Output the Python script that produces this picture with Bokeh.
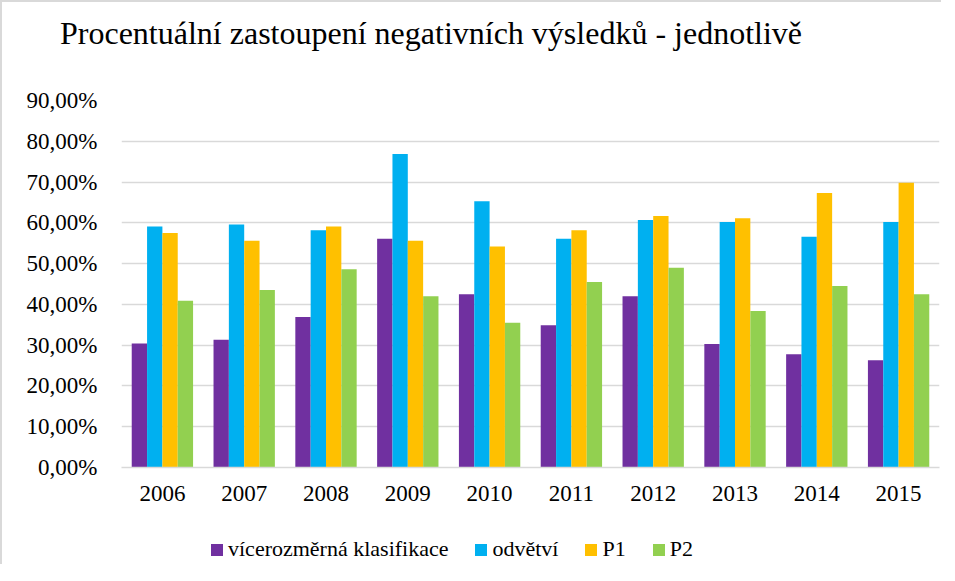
from bokeh.plotting import figure
from bokeh.layouts import column
from bokeh.models import (FactorRange, Range1d, ColumnDataSource, CustomJSTickFormatter,
                          Legend, LegendItem, FixedTicker, Div)
from bokeh.transform import dodge
from bokeh.embed import file_html
from bokeh.resources import INLINE

years = ["2006", "2007", "2008", "2009", "2010", "2011", "2012", "2013", "2014", "2015"]
vicerozmerna = [30.4, 31.3, 36.9, 56.1, 42.5, 34.9, 42.0, 30.3, 27.8, 26.3]
odvetvi = [59.1, 59.6, 58.2, 76.9, 65.3, 56.1, 60.7, 60.2, 56.6, 60.2]
p1 = [57.5, 55.6, 59.1, 55.6, 54.2, 58.2, 61.7, 61.1, 67.3, 69.8]
p2 = [40.9, 43.5, 48.6, 42.0, 35.5, 45.5, 49.0, 38.4, 44.5, 42.5]
series_names = ["vícerozměrná klasifikace", "odvětví", "P1", "P2"]
colors = ["#7030A0", "#00B0F0", "#FFC000", "#92D050"]
y_ticks = [0, 10, 20, 30, 40, 50, 60, 70, 80, 90]
title_text = "Procentuální zastoupení negativních výsledků - jednotlivě"

FONT = "Liberation Serif"

source = ColumnDataSource(dict(year=years, s0=vicerozmerna, s1=odvetvi, s2=p1, s3=p2))

title_div = Div(text=title_text, width=939, height=50, margin=0,
                styles={"font-family": FONT, "font-size": "32px", "color": "#000000",
                        "line-height": "1.15", "padding-left": "58px", "padding-top": "13px",
                        "box-sizing": "border-box", "white-space": "nowrap"})

p = figure(x_range=FactorRange(*years), y_range=Range1d(0, 90),
           width=939, height=467, output_backend="svg", toolbar_location=None,
           min_border_left=119, min_border_right=2, min_border_top=48, min_border_bottom=52)
p.title = None

bw = 0.1875
offsets = [-1.5 * bw, -0.5 * bw, 0.5 * bw, 1.5 * bw]
for i, col in enumerate(colors):
    p.vbar(x=dodge("year", offsets[i], range=p.x_range), top="s%d" % i, width=bw,
           source=source, fill_color=col, line_color=None)

p.outline_line_color = None
p.xgrid.grid_line_color = None
p.ygrid.grid_line_color = "#d9d9d9"
p.ygrid.grid_line_width = 1.5
p.yaxis.ticker = FixedTicker(ticks=y_ticks)
p.yaxis.formatter = CustomJSTickFormatter(code="return tick.toFixed(2).replace('.', ',') + '%';")
p.yaxis.axis_line_color = None
p.yaxis.major_tick_line_color = None
p.yaxis.minor_tick_line_color = None
p.yaxis.major_label_standoff = 18
p.xaxis.axis_line_color = "#d9d9d9"
p.xaxis.axis_line_width = 1.5
p.xaxis.major_tick_line_color = None
p.xaxis.minor_tick_line_color = None
p.xaxis.major_label_standoff = 12
for ax in (p.xaxis, p.yaxis):
    ax.major_label_text_font = FONT
    ax.major_label_text_font_size = "23px"
    ax.major_label_text_color = "#000000"
p.x_range.range_padding = 0
p.x_range.group_padding = 0

# legend strip below the chart (its proxy bars lie outside its visible y range)
lp = figure(x_range=FactorRange(*years), y_range=Range1d(1000, 1001), width=939, height=45,
            output_backend="svg", toolbar_location=None,
            x_axis_location=None, y_axis_location=None,
            min_border_left=0, min_border_right=0, min_border_top=0, min_border_bottom=0)
lp.grid.visible = False
lp.outline_line_color = None
proxies = [lp.vbar(x="year", top="s%d" % i, width=0.1, source=source, fill_color=c, line_color=None)
           for i, c in enumerate(colors)]
legend = Legend(items=[LegendItem(label=n, renderers=[r]) for n, r in zip(series_names, proxies)],
                orientation="horizontal", location=(88, 2), padding=0, margin=0,
                spacing=25, label_standoff=4, glyph_width=15, glyph_height=15,
                label_text_font=FONT, label_text_font_size="22px", label_text_color="#000000",
                border_line_color=None, background_fill_alpha=0)
lp.add_layout(legend, "center")

layout = column(title_div, p, lp, spacing=0,
                styles={"border-left": "2px solid #d9d9d9", "border-top": "2px solid #d9d9d9"})

open("out.html", "w", encoding="utf-8").write(file_html(layout, INLINE))
